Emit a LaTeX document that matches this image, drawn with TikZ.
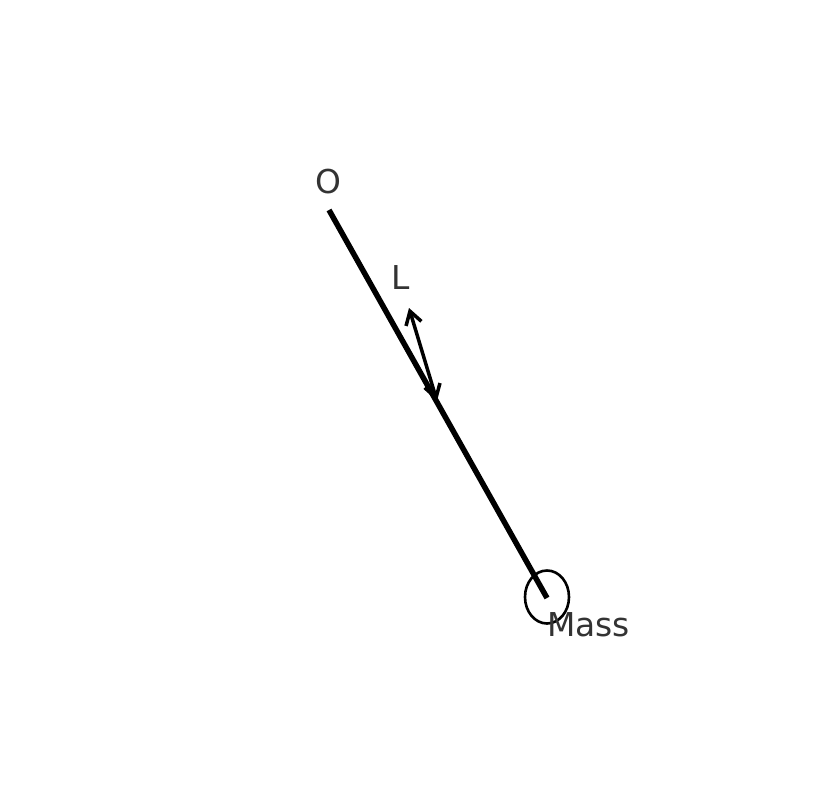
\documentclass[tikz,border=0pt]{standalone}
\usepackage{fontspec}
\setmainfont{DejaVu Sans}
\usetikzlibrary{arrows.meta,positioning}
\definecolor{labelgray}{gray}{0.2}
\tikzset{
  lbl/.style={font=\fontsize{33}{39}\selectfont, text=labelgray, inner sep=0pt},
  rod/.style={line width=5.5bp, black},
  bob/.style={line width=2.6bp, black},
  dimarrow/.style={{Straight Barb[length=13bp,width=16bp,line width=3.5bp]}-{Straight Barb[length=13bp,width=16bp,line width=3.5bp]}, line width=3.5bp, black},
}
\begin{document}
\begin{tikzpicture}[x=1bp, y=-1bp]
  \useasboundingbox (0,0) rectangle (814,810);

  % ----- Pendulum -----
  \coordinate (pivot) at (329,210);
  \coordinate (end) at (547,598);
  \draw[rod] (pivot) -- (end);
  \draw[bob] (547,597) ellipse [x radius=22bp, y radius=26.5bp];

  % ----- Length arrow -----
  \coordinate (la) at (409,308);
  \coordinate (lb) at (437,401);
  \draw[dimarrow] (la) -- (lb);

  % ----- Labels -----
  \node[lbl, anchor=base] (olabel) at (328,193) {O};
  \node[lbl, anchor=base] (llabel) at (401,289) {L};
  \node[lbl, anchor=base west] (mlabel) at (547,636) {Mass};

\end{tikzpicture}
\end{document}
